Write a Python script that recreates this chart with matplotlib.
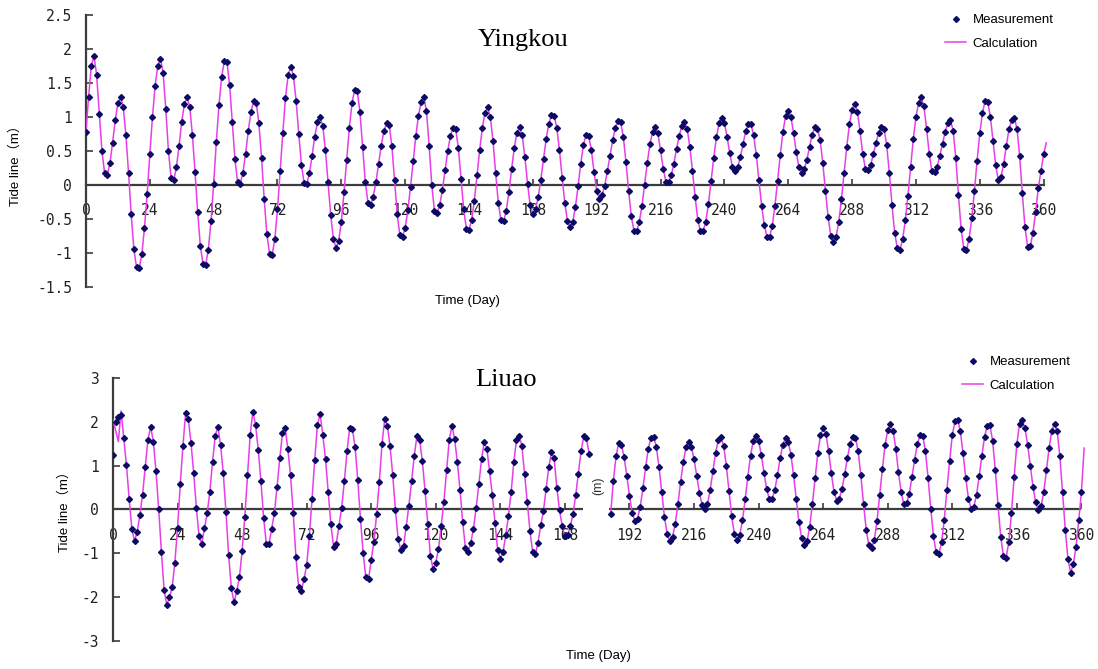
import numpy as np
import matplotlib
matplotlib.use("Agg")
import matplotlib.pyplot as plt

nan = float("nan")

# hourly tide level at Yingkou (m)
yingkou_meas = [
    0.78, 1.30, 1.75, 1.90, 1.62, 1.05, 0.50, 0.18, 0.15, 0.32, 0.62, 0.95,
    1.20, 1.30, 1.15, 0.74, 0.18, -0.43, -0.94, -1.21, -1.22, -1.02, -0.63, -0.13,
    0.45, 1.00, 1.46, 1.75, 1.86, 1.65, 1.12, 0.50, 0.10, 0.07, 0.26, 0.58,
    0.93, 1.19, 1.29, 1.15, 0.74, 0.19, -0.40, -0.90, -1.16, -1.17, -0.95, -0.53,
    0.02, 0.63, 1.18, 1.59, 1.82, 1.81, 1.47, 0.93, 0.38, 0.04, 0.02, 0.18,
    0.46, 0.79, 1.07, 1.23, 1.21, 0.91, 0.40, -0.21, -0.72, -1.01, -1.03, -0.79,
    -0.36, 0.20, 0.77, 1.28, 1.62, 1.74, 1.60, 1.24, 0.75, 0.30, 0.03, 0.02,
    0.17, 0.43, 0.71, 0.92, 1.00, 0.87, 0.52, 0.04, -0.44, -0.79, -0.92, -0.82,
    -0.54, -0.11, 0.37, 0.84, 1.20, 1.40, 1.38, 1.07, 0.56, 0.05, -0.26, -0.29,
    -0.17, 0.04, 0.31, 0.58, 0.79, 0.91, 0.88, 0.57, 0.07, -0.43, -0.74, -0.76,
    -0.63, -0.37, -0.03, 0.35, 0.72, 1.02, 1.22, 1.29, 1.09, 0.58, 0.00, -0.38,
    -0.41, -0.29, -0.07, 0.22, 0.50, 0.72, 0.84, 0.82, 0.54, 0.09, -0.36, -0.64,
    -0.66, -0.51, -0.23, 0.14, 0.51, 0.84, 1.06, 1.14, 1.00, 0.65, 0.18, -0.26,
    -0.52, -0.53, -0.38, -0.10, 0.23, 0.54, 0.77, 0.85, 0.73, 0.41, 0.02, -0.30,
    -0.42, -0.36, -0.18, 0.08, 0.38, 0.68, 0.90, 1.03, 1.02, 0.84, 0.51, 0.11,
    -0.26, -0.53, -0.62, -0.54, -0.32, -0.02, 0.31, 0.59, 0.73, 0.72, 0.51, 0.19,
    -0.09, -0.20, -0.15, -0.01, 0.20, 0.43, 0.66, 0.84, 0.94, 0.92, 0.71, 0.34,
    -0.09, -0.46, -0.67, -0.68, -0.55, -0.31, 0.00, 0.32, 0.60, 0.78, 0.85, 0.76,
    0.51, 0.24, 0.05, 0.04, 0.14, 0.31, 0.53, 0.72, 0.87, 0.92, 0.83, 0.56,
    0.21, -0.18, -0.51, -0.68, -0.68, -0.54, -0.28, 0.06, 0.40, 0.70, 0.91, 0.98,
    0.91, 0.71, 0.47, 0.27, 0.20, 0.26, 0.41, 0.60, 0.79, 0.90, 0.89, 0.73,
    0.44, 0.07, -0.31, -0.59, -0.76, -0.76, -0.60, -0.31, 0.06, 0.44, 0.78, 1.01,
    1.09, 1.00, 0.77, 0.49, 0.26, 0.17, 0.23, 0.37, 0.56, 0.74, 0.85, 0.83,
    0.66, 0.32, -0.09, -0.47, -0.75, -0.84, -0.76, -0.54, -0.21, 0.18, 0.56, 0.89,
    1.11, 1.19, 1.08, 0.79, 0.46, 0.24, 0.22, 0.30, 0.45, 0.62, 0.77, 0.85,
    0.83, 0.59, 0.18, -0.29, -0.70, -0.93, -0.95, -0.80, -0.52, -0.16, 0.26, 0.67,
    1.00, 1.21, 1.29, 1.16, 0.83, 0.46, 0.21, 0.19, 0.27, 0.43, 0.61, 0.78,
    0.91, 0.95, 0.80, 0.39, -0.15, -0.65, -0.94, -0.96, -0.79, -0.49, -0.09, 0.36,
    0.76, 1.06, 1.23, 1.22, 1.00, 0.65, 0.29, 0.07, 0.12, 0.31, 0.58, 0.82,
    0.96, 0.98, 0.83, 0.42, -0.12, -0.62, -0.91, -0.90, -0.70, -0.40, -0.05, 0.20,
    0.45,
]
yingkou_calc_tail = [0.62]

# hourly tide level at Liuao (m); gap where the two source charts were joined
liuao_meas = [
    1.25, 2.00, 2.10, 2.16, 1.63, 1.02, 0.25, -0.44, -0.72, -0.51, -0.13, 0.34,
    0.98, 1.59, 1.89, 1.55, 0.87, 0.00, -0.97, -1.83, -2.18, -2.00, -1.78, -1.21,
    -0.42, 0.57, 1.45, 2.20, 2.07, 1.52, 0.83, 0.04, -0.61, -0.78, -0.43, -0.09,
    0.40, 1.08, 1.68, 1.89, 1.46, 0.83, -0.06, -1.04, -1.80, -2.12, -1.86, -1.55,
    -0.95, -0.17, 0.78, 1.70, 2.23, 1.93, 1.36, 0.64, -0.19, -0.78, -0.78, -0.44,
    -0.08, 0.52, 1.17, 1.74, 1.87, 1.38, 0.78, -0.08, -1.08, -1.76, -1.86, -1.59,
    -1.27, -0.61, 0.24, 1.14, 1.93, 2.17, 1.70, 1.15, 0.39, -0.34, -0.85, -0.78,
    -0.38, 0.04, 0.64, 1.33, 1.87, 1.84, 1.42, 0.67, -0.21, -1.00, -1.55, -1.59,
    -1.15, -0.74, -0.11, 0.62, 1.49, 2.06, 1.91, 1.44, 0.78, -0.02, -0.68, -0.92,
    -0.83, -0.39, 0.09, 0.64, 1.23, 1.68, 1.59, 1.10, 0.43, -0.33, -1.06, -1.36,
    -1.21, -0.91, -0.38, 0.17, 0.89, 1.59, 1.91, 1.61, 1.08, 0.45, -0.29, -0.87,
    -0.98, -0.76, -0.44, 0.04, 0.57, 1.15, 1.53, 1.38, 0.87, 0.34, -0.30, -0.92,
    -1.12, -0.97, -0.59, -0.15, 0.39, 1.08, 1.59, 1.68, 1.45, 0.82, 0.17, -0.49,
    -0.97, -1.02, -0.76, -0.36, -0.04, 0.47, 0.97, 1.30, 1.17, 0.49, -0.02, -0.38,
    -0.61, -0.59, -0.38, -0.11, 0.32, 0.82, 1.33, 1.67, 1.63, 1.27, nan, nan,
    nan, nan, nan, nan, nan, -0.10, 0.65, 1.21, 1.52, 1.47, 1.20, 0.77,
    0.31, -0.07, -0.26, -0.21, 0.06, 0.49, 0.96, 1.39, 1.64, 1.66, 1.42, 0.96,
    0.40, -0.17, -0.55, -0.72, -0.63, -0.33, 0.12, 0.63, 1.08, 1.42, 1.53, 1.43,
    1.15, 0.77, 0.38, 0.10, 0.00, 0.12, 0.45, 0.87, 1.29, 1.58, 1.65, 1.45,
    1.00, 0.42, -0.16, -0.56, -0.70, -0.58, -0.25, 0.23, 0.75, 1.23, 1.56, 1.68,
    1.56, 1.25, 0.84, 0.46, 0.24, 0.24, 0.44, 0.78, 1.17, 1.48, 1.63, 1.55,
    1.25, 0.78, 0.23, -0.28, -0.65, -0.82, -0.73, -0.39, 0.13, 0.72, 1.29, 1.69,
    1.85, 1.73, 1.34, 0.84, 0.41, 0.20, 0.25, 0.47, 0.80, 1.17, 1.49, 1.66,
    1.64, 1.33, 0.78, 0.13, -0.46, -0.82, -0.89, -0.69, -0.27, 0.32, 0.92, 1.46,
    1.81, 1.94, 1.79, 1.39, 0.85, 0.39, 0.12, 0.14, 0.36, 0.73, 1.14, 1.49,
    1.69, 1.68, 1.33, 0.72, 0.02, -0.61, -0.98, -1.02, -0.75, -0.24, 0.45, 1.10,
    1.70, 2.01, 2.05, 1.78, 1.28, 0.72, 0.25, 0.01, 0.06, 0.33, 0.76, 1.23,
    1.66, 1.91, 1.92, 1.56, 0.89, 0.10, -0.62, -1.06, -1.10, -0.75, -0.08, 0.75,
    1.49, 1.96, 2.05, 1.86, 1.48, 0.99, 0.52, 0.16, -0.02, 0.07, 0.40, 0.89,
    1.41, 1.80, 1.96, 1.78, 1.21, 0.39, -0.46, -1.13, -1.44, -1.25, -0.85, -0.25,
    0.40,
]
liuao_calc_head = [2.05, 1.80, 1.55, 2.25]
liuao_calc_tail = [1.40]

xticks = list(range(0, 361, 24))
yingkou_yticks = [-1.5, -1, -0.5, 0, 0.5, 1, 1.5, 2, 2.5]
liuao_yticks = [-3, -2, -1, 0, 1, 2, 3]

dot_color = "#0b0b66"
line_color = "#e83ee8"
axis_color = "#3c3c3c"

yingkou_calc = yingkou_meas + yingkou_calc_tail
liuao_calc = liuao_calc_head + liuao_meas[len(liuao_calc_head):] + liuao_calc_tail

fig = plt.figure(figsize=(10.98, 6.69), dpi=100)
ax1 = fig.add_axes([0.0783, 0.571, 0.877, 0.4066])
ax2 = fig.add_axes([0.1029, 0.0419, 0.8869, 0.3931])


def style(ax, yticks):
    ax.set_xlim(0, 362)
    ax.set_ylim(yticks[0], yticks[-1])
    ax.spines["top"].set_visible(False)
    ax.spines["right"].set_visible(False)
    ax.spines["left"].set_color(axis_color)
    ax.spines["left"].set_linewidth(1.6)
    ax.spines["bottom"].set_position(("data", 0))
    ax.spines["bottom"].set_bounds(0, 360)
    ax.spines["bottom"].set_color(axis_color)
    ax.spines["bottom"].set_linewidth(1.6)
    ax.set_xticks(xticks, [str(t) for t in xticks])
    ax.set_yticks(yticks, [f"{v:g}" for v in yticks])
    ax.tick_params(axis="x", direction="in", length=4, width=1.2, pad=13,
                   colors=axis_color, labelcolor="#222222")
    ax.tick_params(axis="y", direction="in", length=5, width=1.2, pad=10,
                   colors=axis_color, labelcolor="#222222")
    for lbl in ax.get_xticklabels() + ax.get_yticklabels():
        lbl.set_family("DejaVu Sans Mono")
        lbl.set_fontsize(10.5)
    ax.patch.set_alpha(0)


style(ax1, yingkou_yticks)
ax1.plot(np.arange(len(yingkou_calc)), yingkou_calc, color=line_color, lw=1.1,
         label="Calculation", zorder=3)
ax1.plot(np.arange(len(yingkou_meas)), yingkou_meas, ls="none", marker="D", ms=3.0,
         color=dot_color, label="Measurement", zorder=4)

style(ax2, liuao_yticks)
ax2.spines["bottom"].set_visible(False)
ax2.hlines(0, 0, 174.7, color=axis_color, lw=1.6)
ax2.hlines(0, 184.4, 360, color=axis_color, lw=1.6)
ax2.plot(np.arange(len(liuao_calc)), liuao_calc, color=line_color, lw=1.1,
         label="Calculation", zorder=3)
ax2.plot(np.arange(len(liuao_meas)), liuao_meas, ls="none", marker="D", ms=3.0,
         color=dot_color, label="Measurement", zorder=4)
ax2.text(180.3, 0.55, "(m)", rotation=90, ha="center", va="center",
         fontsize=9, color="#333333", family="Liberation Sans")

sans = {"family": "Liberation Sans", "size": 9.5}
for ax, anchor in [(ax1, (945 / 1098, 1 - 14 / 669)), (ax2, (962 / 1098, 1 - 356 / 669))]:
    h, l = ax.get_legend_handles_labels()
    ax.legend(h[::-1], l[::-1], loc="upper left", bbox_to_anchor=anchor,
              bbox_transform=fig.transFigure, frameon=False, prop=sans,
              handlelength=1.6, handletextpad=0.5, labelspacing=0.85,
              borderpad=0, borderaxespad=0, numpoints=1)

fig.text(523 / 1098, 1 - 40 / 669, "Yingkou", ha="center", va="center",
         fontsize=19, family="Liberation Serif")
fig.text(506 / 1098, 1 - 380 / 669, "Liuao", ha="center", va="center",
         fontsize=19, family="Liberation Serif")

lab_font = ["Liberation Sans", "Noto Sans CJK SC"]
fig.text(15 / 1098, 1 - 162 / 669, "Tide line（m）", rotation=90, ha="center",
         va="center", fontsize=9.5, family=lab_font)
fig.text(64 / 1098, 1 - 508 / 669, "Tide line（m）", rotation=90, ha="center",
         va="center", fontsize=9.5, family=lab_font)
fig.text(467 / 1098, 1 - 301 / 669, "Time (Day)", ha="center", va="center",
         fontsize=9.5, family=lab_font)
fig.text(598 / 1098, 1 - 656 / 669, "Time (Day)", ha="center", va="center",
         fontsize=9.5, family=lab_font)

fig.savefig("out.png", dpi=100, facecolor="white")
